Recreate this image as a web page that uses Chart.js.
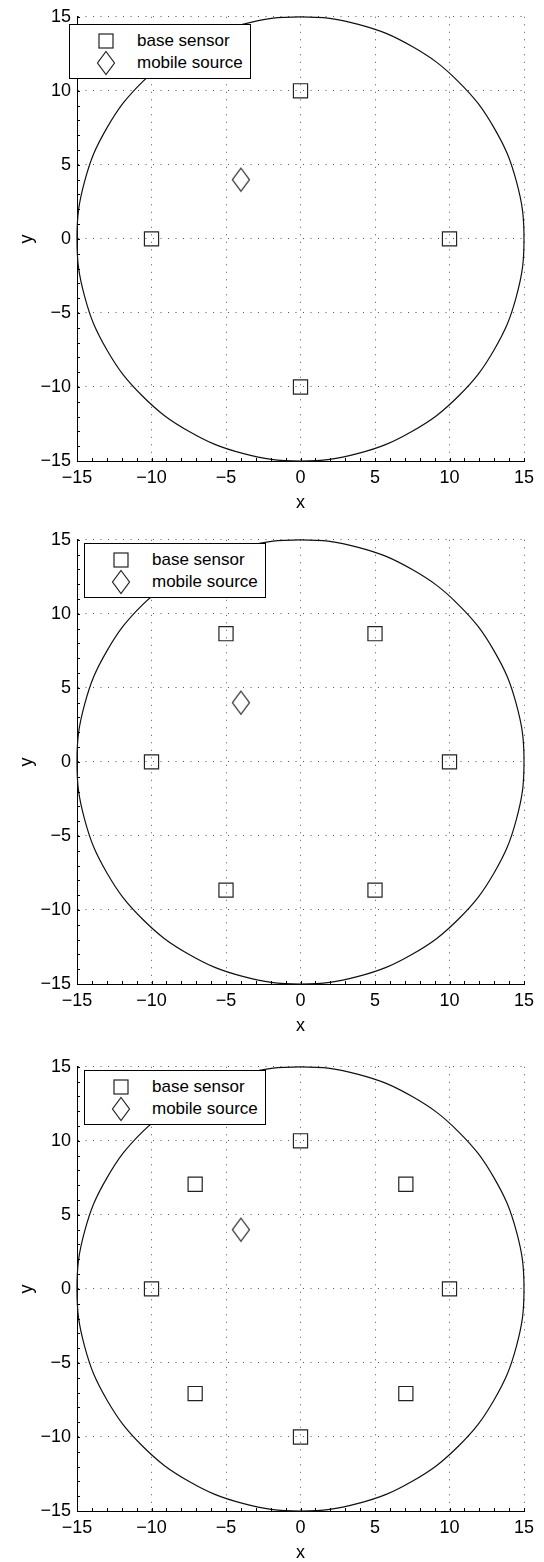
<!DOCTYPE html>
<html>
<head>
<meta charset="utf-8">
<script src="https://cdn.jsdelivr.net/npm/chart.js@4/dist/chart.umd.min.js"></script>
<style>
  html, body { margin: 0; padding: 0; background: #fff; overflow: hidden; }
  body { width: 544px; height: 1562px; position: relative; font-family: "Liberation Sans", Arial, sans-serif; }
  canvas { position: absolute; left: 0; }
  .legend { position: absolute; width: 182px; height: 55px; box-sizing: border-box; border: 1px solid #000; background: #fff; }
  .legend svg { position: absolute; }
  .legend span { position: absolute; left: 67px; font-size: 17px; line-height: 20px; color: #000; white-space: nowrap; }
</style>
</head>
<body>
<canvas id="c1" width="544" height="520" style="top:0px"></canvas>
<canvas id="c2" width="544" height="520" style="top:523px"></canvas>
<canvas id="c3" width="544" height="520" style="top:1050px"></canvas>

<div class="legend" style="left:69px;top:24px">
  <svg style="left:28px;top:8px" width="16" height="16"><rect x="1" y="1" width="14" height="14" fill="none" stroke="#222" stroke-width="1.2"/></svg>
  <span style="top:6px">base sensor</span>
  <svg style="left:26px;top:25px" width="20" height="26"><path d="M10 1.5 L18.5 13 L10 24.5 L1.5 13 Z" fill="none" stroke="#222" stroke-width="1.2"/></svg>
  <span style="top:28px">mobile source</span>
</div>
<div class="legend" style="left:84px;top:543px">
  <svg style="left:28px;top:8px" width="16" height="16"><rect x="1" y="1" width="14" height="14" fill="none" stroke="#222" stroke-width="1.2"/></svg>
  <span style="top:6px">base sensor</span>
  <svg style="left:26px;top:25px" width="20" height="26"><path d="M10 1.5 L18.5 13 L10 24.5 L1.5 13 Z" fill="none" stroke="#222" stroke-width="1.2"/></svg>
  <span style="top:28px">mobile source</span>
</div>
<div class="legend" style="left:84px;top:1070px">
  <svg style="left:28px;top:8px" width="16" height="16"><rect x="1" y="1" width="14" height="14" fill="none" stroke="#222" stroke-width="1.2"/></svg>
  <span style="top:6px">base sensor</span>
  <svg style="left:26px;top:25px" width="20" height="26"><path d="M10 1.5 L18.5 13 L10 24.5 L1.5 13 Z" fill="none" stroke="#222" stroke-width="1.2"/></svg>
  <span style="top:28px">mobile source</span>
</div>

<script>
// axis ticks
const tickValues = [-15, -10, -5, 0, 5, 10, 15]

// boundary circle (radius 15), points read every 15 degrees,
// starting and ending at the upper left where the legend covers the join
const circleX = [-7.5, -10.61, -12.99, -14.49, -15, -14.49, -12.99, -10.61, -7.5, -3.88, 0, 3.88, 7.5,
  10.61, 12.99, 14.49, 15, 14.49, 12.99, 10.61, 7.5, 3.88, 0, -3.88, -7.5]
const circleY = [12.99, 10.61, 7.5, 3.88, 0, -3.88, -7.5, -10.61, -12.99, -14.49, -15, -14.49, -12.99,
  -10.61, -7.5, -3.88, 0, 3.88, 7.5, 10.61, 12.99, 14.49, 15, 14.49, 12.99]

// base sensors, one set per panel
const sensors4X = [0, -10, 10, 0]
const sensors4Y = [10, 0, 0, -10]
const sensors6X = [10, 5, -5, -10, -5, 5]
const sensors6Y = [0, 8.66, 8.66, 0, -8.66, -8.66]
const sensors8X = [10, 7.07, 0, -7.07, -10, -7.07, 0, 7.07]
const sensors8Y = [0, 7.07, 10, 7.07, 0, -7.07, -10, -7.07]

// mobile source
const sourceX = [-4]
const sourceY = [4]

const FONT = { family: '"Liberation Sans", Arial, sans-serif', size: 18 }

const diamond = document.createElement('canvas')
diamond.width = 20
diamond.height = 26
{
  const g = diamond.getContext('2d')
  g.strokeStyle = '#222'
  g.lineWidth = 1.2
  g.beginPath()
  g.moveTo(10, 1.5); g.lineTo(18.5, 13); g.lineTo(10, 24.5); g.lineTo(1.5, 13); g.closePath()
  g.stroke()
}

function pts(xs, ys) { return xs.map((x, i) => ({ x: x, y: ys[i] })) }
function fmt(v) { return String(v).replace('-', '\u2212') }

// small inward ticks along the left and bottom axes
const minorTicks = {
  id: 'minorTicks',
  afterDraw(chart) {
    const { ctx, chartArea: a, scales } = chart
    ctx.save()
    ctx.strokeStyle = '#000'
    ctx.lineWidth = 1
    ctx.beginPath()
    for (let v = -15; v <= 15; v++) {
      const x = Math.round(scales.x.getPixelForValue(v)) + 0.5
      ctx.moveTo(x, a.bottom); ctx.lineTo(x, a.bottom - 3)
      const y = Math.round(scales.y.getPixelForValue(v)) + 0.5
      ctx.moveTo(a.left, y); ctx.lineTo(a.left + 3, y)
    }
    ctx.stroke()
    ctx.restore()
  }
}

function axis(title, isX) {
  return {
    type: 'linear', min: -15, max: 15,
    afterBuildTicks: s => { s.ticks = tickValues.map(v => ({ value: v })) },
    ticks: { padding: 6, font: FONT, color: '#000', callback: v => fmt(v), maxRotation: 0 },
    grid: { color: '#555', lineWidth: 1, drawTicks: false },
    border: { display: true, color: '#000', width: 1, dash: [1, 6.5] },
    title: { display: true, text: title, font: FONT, color: '#000',
      padding: isX ? { top: 0, bottom: 6 } : { top: 16, bottom: 0 } },
    afterFit: s => { if (isX) s.height = 59; else s.width = 77 }
  }
}

function makeChart(id, sx, sy) {
  new Chart(document.getElementById(id), {
    type: 'scatter',
    data: {
      datasets: [
        { data: pts(circleX, circleY), showLine: true, pointRadius: 0, borderColor: '#111', borderWidth: 1.2,
          tension: 0.4, capBezierPoints: false, fill: false, clip: 4, order: 3 },
        { data: pts(sx, sy), pointStyle: 'rect', pointRadius: 10, pointBorderColor: '#222',
          pointBackgroundColor: 'rgba(0,0,0,0)', pointBorderWidth: 1.2, showLine: false, order: 2 },
        { data: pts(sourceX, sourceY), pointStyle: diamond, pointRadius: 10, showLine: false, order: 1 }
      ]
    },
    options: {
      responsive: false,
      animation: false,
      events: [],
      layout: { padding: { top: 15, right: 20, left: 0, bottom: 0 } },
      plugins: { legend: { display: false }, tooltip: { enabled: false } },
      scales: { x: axis('x', true), y: axis('y', false) }
    },
    plugins: [minorTicks]
  })
}

makeChart('c1', sensors4X, sensors4Y)
makeChart('c2', sensors6X, sensors6Y)
makeChart('c3', sensors8X, sensors8Y)
</script>
</body>
</html>
